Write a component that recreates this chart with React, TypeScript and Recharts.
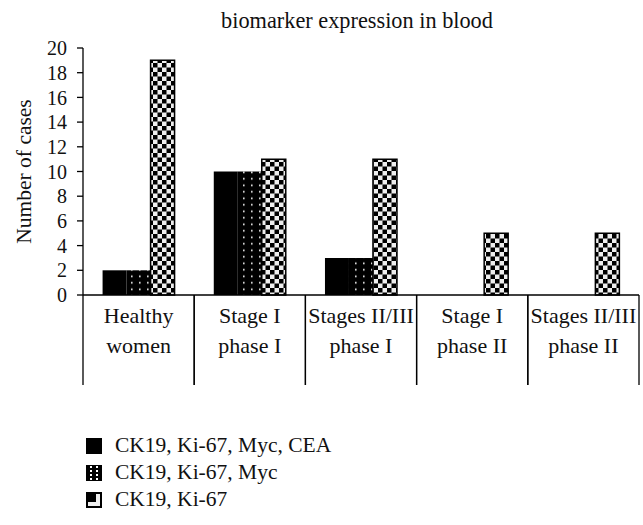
import { Bar, BarChart, Legend, XAxis, YAxis } from 'recharts';

const categories = [
  'Healthy\nwomen',
  'Stage I\nphase I',
  'Stages II/III\nphase I',
  'Stage I\nphase II',
  'Stages II/III\nphase II'
];
const seriesNames = ['CK19, Ki-67, Myc, CEA', 'CK19, Ki-67, Myc', 'CK19, Ki-67'];
const fourMarkers = [2, 10, 3, 0, 0];
const threeMarkers = [2, 10, 3, 0, 0];
const twoMarkers = [19, 11, 11, 5, 5];
const yTicks = [0, 2, 4, 6, 8, 10, 12, 14, 16, 18, 20];

const data = categories.map((name, i) => ({
  name,
  four: fourMarkers[i],
  three: threeMarkers[i],
  two: twoMarkers[i]
}));

const fills = ['#000', 'url(#dots)', 'url(#checker)'];
const font = '"Liberation Serif", "Times New Roman", serif';

const CategoryTick = (props: any) => {
  const { x, y, payload } = props;
  const half = payload.offset ?? 0;
  const lines = String(payload.value).split('\n');
  return (
    <g>
      <line x1={x - half} y1={y} x2={x - half} y2={y + 90} stroke="#000" strokeWidth={1.3} />
      <line x1={x + half} y1={y} x2={x + half} y2={y + 90} stroke="#000" strokeWidth={1.3} />
      {lines.map((t, i) => (
        <text key={i} x={x} y={y + 28 + i * 30} textAnchor="middle" fontSize={22} fontFamily={font} fill="#111">
          {t}
        </text>
      ))}
    </g>
  );
};

// little legend keys, drawn like the original's
const Swatch = ({ index }: { index: number }) => (
  <svg width={16} height={16} style={{ display: 'block' }}>
    {index === 0 && <rect x={0} y={0} width={16} height={16} fill="#000" />}
    {index === 1 && (
      <g>
        <rect x={0} y={0} width={16} height={16} fill="#000" />
        {[1, 5, 9, 13].map((dy) => (
          <g key={dy}>
            <rect x={4} y={dy} width={2} height={2} fill="#fff" />
            <rect x={10} y={dy} width={2} height={2} fill="#fff" />
          </g>
        ))}
      </g>
    )}
    {index === 2 && (
      <g>
        <rect x={1} y={1} width={14} height={14} fill="#eee" stroke="#000" strokeWidth={2} />
        <rect x={2} y={2} width={8} height={8} fill="#000" />
      </g>
    )}
  </svg>
);

const LegendBox = () => (
  <div style={{ fontFamily: font, fontSize: 21.5, color: '#111' }}>
    {seriesNames.map((n, i) => (
      <div key={n} style={{ display: 'flex', alignItems: 'center', height: 27 }}>
        <Swatch index={i} />
        <span style={{ marginLeft: 13 }}>{n}</span>
      </div>
    ))}
  </div>
);

export default function App() {
  return (
    <div style={{ position: 'absolute', left: 0, top: 0, width: 643, height: 525, background: '#fff' }}>
      <div
        style={{
          position: 'absolute',
          top: 10,
          left: 79,
          width: 556,
          textAlign: 'center',
          fontFamily: font,
          fontSize: 22.3,
          lineHeight: '22px',
          color: '#111'
        }}
      >
        biomarker expression in blood
      </div>
      <BarChart
        width={643}
        height={525}
        data={data}
        margin={{ top: 48, right: 4, bottom: 140, left: 23 }}
        barCategoryGap="17.6%"
        barGap={0}
      >
        <defs>
          <pattern id="dots" width="8" height="6.5" patternUnits="userSpaceOnUse">
            <rect width="8" height="6.5" fill="#000" />
            <rect x="3" y="2.5" width="1.6" height="1.6" fill="#fff" />
          </pattern>
          <pattern id="checker" width="9" height="9" patternUnits="userSpaceOnUse">
            <rect width="9" height="9" fill="#eee" />
            <rect width="4.5" height="4.5" fill="#000" />
            <rect x="4.5" y="4.5" width="4.5" height="4.5" fill="#000" />
          </pattern>
        </defs>
        <XAxis
          dataKey="name"
          interval={0}
          height={90}
          tickSize={0}
          tickMargin={0}
          tickLine={false}
          axisLine={{ stroke: '#000', strokeWidth: 1.3 }}
          tick={<CategoryTick />}
        />
        <YAxis
          width={60}
          domain={[0, 20]}
          ticks={yTicks}
          interval={0}
          tickSize={6}
          tickMargin={10}
          axisLine={{ stroke: '#000', strokeWidth: 1.3 }}
          tickLine={{ stroke: '#000', strokeWidth: 1.3 }}
          tick={{ fontSize: 20, fontFamily: font, fill: '#111' }}
          label={{
            value: 'Number of cases',
            angle: -90,
            position: 'insideLeft',
            offset: 0,
            dx: 0,
            style: { fontSize: 21.5, fontFamily: font, fill: '#111', textAnchor: 'middle' }
          }}
        />
        <Legend
          layout="vertical"
          align="center"
          verticalAlign="middle"
          wrapperStyle={{ left: 86, top: 432, width: 320, height: 82 }}
          content={<LegendBox />}
        />
        <Bar dataKey="four" name={seriesNames[0]} fill={fills[0]} isAnimationActive={false} />
        <Bar dataKey="three" name={seriesNames[1]} fill={fills[1]} isAnimationActive={false} />
        <Bar dataKey="two" name={seriesNames[2]} fill={fills[2]} stroke="#000" strokeWidth={1.5} isAnimationActive={false} />
      </BarChart>
    </div>
  );
}
